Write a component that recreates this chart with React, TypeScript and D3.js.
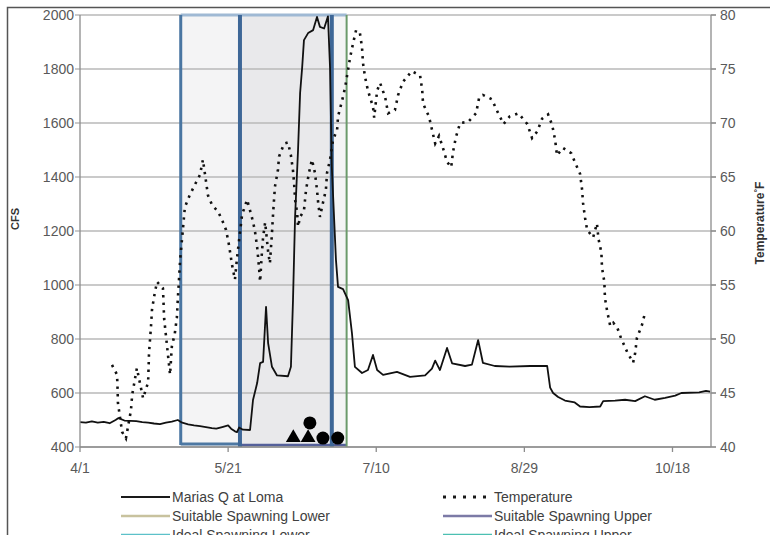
import React from "react";
import * as d3 from "d3";

const YEAR = 2013;
const md = (s: string) => {
  const [m, d] = s.split("/").map(Number);
  return new Date(YEAR, m - 1, d);
};
const START = md("4/1");
const END = md("10/31");
const fromDay = (d: number) => new Date(START.getTime() + d * 864e5);

// axes
const xTickLabels = ["4/1", "5/21", "7/10", "8/29", "10/18"];
const cfsTicks = [400, 600, 800, 1000, 1200, 1400, 1600, 1800, 2000];
const tempTicks = [40, 45, 50, 55, 60, 65, 70, 75, 80];

// Marias Q at Loma (days after 4/1, cfs)
const flowDays = [0, 2, 4, 6, 8, 10, 12, 13, 15, 17, 19, 21, 23, 25, 27, 29, 31, 33, 34.5, 36.5,
  38.5, 40.5, 42.5, 44.5, 46, 48, 50, 51, 52.3, 53, 53.7, 55, 57.4, 58.4, 59.8, 60.8, 61.8, 62.8, 63.5, 64.8,
  66.5, 70.2, 71.2, 71.9, 72.6, 73.6, 74.3, 75, 75.6, 77, 78.7, 80, 81, 82.4, 83.7, 84.4, 85, 86.4, 87.1, 88.8,
  90.5, 91.8, 92.8, 95.2, 97.2, 98.9, 100.3, 102.3, 107, 111.4, 116.5, 118.8, 119.9, 121.5, 123.9, 125.6, 130, 132.3, 134.4, 136,
  140, 145, 152, 157.7, 158.7, 159.7, 161.4, 163.7, 167, 168.8, 172, 175.6, 176.6, 180.6, 184, 187.4, 190.7, 194, 197.5, 200.9,
  203, 209, 211.3, 212.7];
const flowCfs = [492, 490, 495, 490, 493, 488, 500, 507, 498, 497, 496, 492, 490, 487, 485, 490, 494, 500, 490, 484,
  480, 477, 474, 470, 468, 474, 480, 468, 458, 455, 472, 464, 463, 574, 637, 711, 715, 919, 785, 697,
  665, 662, 697, 944, 1252, 1500, 1711, 1807, 1907, 1933, 1944, 1993, 1956, 1950, 1995, 1807, 1437, 1093, 993, 985,
  944, 822, 697, 674, 685, 741, 685, 667, 678, 660, 665, 690, 720, 685, 767, 710, 700, 705, 796, 712,
  700, 698, 700, 700, 620, 600, 585, 572, 565, 550, 548, 550, 570, 572, 575, 570, 588, 575, 582, 590,
  600, 602, 608, 605];

// Temperature (days after 4/1, deg F)
const tempDays = [10.8, 12.5, 12.7, 12.8, 14.2, 15.5, 17.2, 17.6, 19.2, 21.3, 23, 23.3, 24, 24.3, 25, 26, 28, 28.4, 29.4, 30.4,
  31, 32, 32.7, 33, 33.8, 35.4, 37, 38.8, 40.5, 41.5, 43.2, 44.6, 46.6, 48, 49.3, 50.3, 51.3, 52.3, 53, 54.7,
  56.4, 58, 59, 59.8, 60.4, 60.8, 61.4, 61.8, 62.5, 63.5, 64.1, 64.8, 65.2, 65.8, 66.8, 67.2, 68.9, 70.2, 71.2, 71.9,
  72.3, 72.6, 73.3, 73.6, 74.3, 75.6, 76.3, 77.3, 78.3, 79.3, 80, 80.4, 81, 82, 83, 83.4, 84.4, 85.4, 86.8, 87.1,
  88.5, 89.5, 90.1, 91.2, 92.2, 93.2, 94.5, 95.2, 95.5, 96.2, 97.2, 98.9, 99.3, 100.3, 101.3, 103, 104, 106.3, 107.4, 109,
  112, 114.8, 115.5, 115.8, 117.8, 118.8, 119.9, 121.2, 122.5, 123.9, 125.3, 125.9, 126.9, 128.3, 131, 133.7, 134.7, 136, 139, 141,
  143, 145, 148, 151, 152.6, 154.3, 156, 158, 159.4, 160.4, 161, 163, 165.8, 167.5, 168.8, 169.5, 169.8, 170.5, 171.2, 173.2,
  174.5, 175, 176, 176.2, 177, 177.2, 178, 179, 180, 181.3, 182.6, 184.7, 186.7, 187.4, 188, 189.7, 190.7];
const tempF = [47.6, 46.7, 45.3, 44.1, 41.4, 40.8, 43.4, 44.8, 47.3, 44.5, 46, 48.7, 51.3, 52.7, 53.9, 55.3, 54.7, 51.9, 49.3, 46.7,
  49.3, 50.5, 52, 53.6, 57.3, 62.2, 63.3, 64.3, 65.2, 66.6, 63.3, 62.4, 61.8, 61, 60.1, 58.7, 56.9, 55.5, 57.5, 61.5,
  62.9, 61.3, 60.1, 58.5, 56.7, 55.3, 58, 59.4, 60.8, 58.1, 57, 59.8, 61.7, 64.1, 65.6, 66.9, 68.1, 68.2, 67, 65.6,
  64.3, 62.9, 61.7, 60.4, 61.3, 61.9, 63.8, 65.4, 66.6, 65.4, 63.8, 62.6, 61.3, 62.6, 63.8, 65.4, 66.6, 68.4, 69.4, 70.6,
  72.1, 73.3, 74.3, 76.1, 77.4, 78.6, 78.3, 77, 75.6, 74.3, 73, 71.5, 70.5, 73, 73.7, 72.4, 70.9, 71.2, 72.6, 73.8,
  74.8, 74.4, 73.1, 71.8, 70.6, 69.4, 68.1, 68.8, 67.7, 66.4, 65.9, 67.3, 68.7, 70, 70.1, 70.9, 72.3, 72.6, 72.2, 71,
  69.9, 70.6, 70.9, 69.9, 68.6, 69.2, 70.4, 70.8, 69.8, 68.4, 67, 67.7, 67.2, 66.1, 65.3, 63.8, 62.6, 61.2, 60.1, 59.4,
  60.7, 59.3, 58, 56.6, 55.3, 53.8, 52.5, 51.2, 51.5, 51.1, 50.1, 48.8, 47.8, 48.7, 50.1, 51.3, 52.4];

// spawning windows
const suitableWindow = ["5/5", "6/30"];
const idealWindow = ["5/25", "6/25"];

// observations
const triangleDays = [72, 77];
const triangleCfs = [438, 438];
const circleDays = [77.6, 82, 87];
const circleCfs = [489, 433, 433];

const legendItems = [
  { label: "Marias Q at Loma", color: "#1a1a1a", dash: "", w: 2.2 },
  { label: "Temperature", color: "#1a1a1a", dash: "3,7", w: 3 },
  { label: "Suitable Spawning Lower", color: "#c8c29e", dash: "", w: 2.5 },
  { label: "Suitable Spawning Upper", color: "#7c7aa6", dash: "", w: 2.5 },
  { label: "Ideal Spawning Lower", color: "#5cc1c9", dash: "", w: 2.5 },
  { label: "Ideal Spawning Upper", color: "#4cc0b2", dash: "", w: 2.5 },
];

const W = 770, H = 535;
const L = 80, R = 711, T = 15, B = 447;
const FONT = "'Liberation Sans Narrow', 'Liberation Sans', Arial, sans-serif";

export default function App() {
  const x = d3.scaleTime().domain([START, END]).range([L, R]);
  const yQ = d3.scaleLinear().domain([400, 2000]).range([B, T]);
  const yT = d3.scaleLinear().domain([40, 80]).range([B, T]);

  const flow = flowDays.map((d, i) => ({ t: fromDay(d), v: flowCfs[i] }));
  const temp = tempDays.map((d, i) => ({ t: fromDay(d), v: tempF[i] }));

  const flowLine = d3.line<{ t: Date; v: number }>().x(d => x(d.t)).y(d => yQ(d.v));
  const tempLine = d3.line<{ t: Date; v: number }>().x(d => x(d.t)).y(d => yT(d.v));

  const s0 = x(md(suitableWindow[0])), s1 = x(md(suitableWindow[1]));
  const i0 = x(md(idealWindow[0])), i1 = x(md(idealWindow[1]));

  const tri = d3.symbol().type(d3.symbolTriangle).size(95);
  const tickGray = "#8c8c8c";

  return (
    <div style={{ position: "fixed", left: 0, top: 0, width: W, height: H, background: "#fff" }}>
      <svg width={W} height={H} style={{ display: "block" }} fontFamily={FONT}>
        <rect width={W} height={H} fill="#fff" />
        {/* outer chart border */}
        <path d={`M7.5,${H}V7.5H${W}`} fill="none" stroke="#555" strokeWidth={1.5} />

        {/* spawning window fills */}
        <rect x={s0} y={T} width={s1 - s0} height={B - T} fill="#f4f4f5" />
        <rect x={i0} y={T} width={i1 - i0} height={B - T} fill="#e9e9eb" />

        {/* gridlines */}
        {cfsTicks.map(v => (
          <line key={v} x1={L - 5} x2={R + 5} y1={yQ(v)} y2={yQ(v)} stroke="#b9b9b9" strokeWidth={1.6} />
        ))}

        {/* spawning window outlines */}
        <line x1={s0} x2={s1} y1={T} y2={T} stroke="#9fb9d4" strokeWidth={3} />
        <line x1={s0} x2={i0} y1={B - 3} y2={B - 3} stroke="#4d78a3" strokeWidth={3} />
        <line x1={i0} x2={s1} y1={B - 2} y2={B - 2} stroke="#55609a" strokeWidth={2.5} />
        <line x1={s0} x2={s0} y1={T} y2={B - 2} stroke="#4a76a2" strokeWidth={3} />
        <line x1={s1} x2={s1} y1={T} y2={B} stroke="#6b9a6b" strokeWidth={2} />
        <line x1={i0} x2={i0} y1={T} y2={B} stroke="#3e6797" strokeWidth={4} />
        <line x1={i1} x2={i1} y1={T} y2={B} stroke="#3e6797" strokeWidth={4} />

        {/* series */}
        <path d={flowLine(flow) ?? ""} fill="none" stroke="#111" strokeWidth={1.8} strokeLinejoin="round" />
        <path d={tempLine(temp) ?? ""} fill="none" stroke="#111" strokeWidth={2.6} strokeDasharray="2.4,5.2" />

        {/* observation markers */}
        {triangleDays.map((d, i) => (
          <path key={"t" + i} d={tri() ?? ""} transform={`translate(${x(fromDay(d))},${yQ(triangleCfs[i]) + 1})`} fill="#000" />
        ))}
        {circleDays.map((d, i) => (
          <circle key={"c" + i} cx={x(fromDay(d))} cy={yQ(circleCfs[i])} r={6.5} fill="#000" />
        ))}

        {/* axes */}
        <line x1={L} x2={L} y1={T} y2={B} stroke={tickGray} strokeWidth={1.3} />
        <line x1={R} x2={R} y1={T} y2={B} stroke={tickGray} strokeWidth={1.3} />
        <line x1={L} x2={R} y1={B} y2={B} stroke={tickGray} strokeWidth={1.3} />
        {xTickLabels.map(lb => {
          const px = x(md(lb));
          return (
            <g key={lb}>
              <line x1={px} x2={px} y1={B} y2={B + 5} stroke={tickGray} strokeWidth={1.3} />
              <text x={px} y={B + 26} textAnchor="middle" fontSize={14} fill="#595959">{lb}</text>
            </g>
          );
        })}
        {cfsTicks.map(v => (
          <text key={v} x={L - 6} y={yQ(v) + 5} textAnchor="end" fontSize={14} fill="#595959">{v}</text>
        ))}
        {tempTicks.map(v => (
          <g key={v}>
            <line x1={R} x2={R + 5} y1={yT(v)} y2={yT(v)} stroke={tickGray} strokeWidth={1.3} />
            <text x={R + 9} y={yT(v) + 5} fontSize={14} fill="#595959">{v}</text>
          </g>
        ))}

        {/* axis titles */}
        <text transform="translate(19,219) rotate(-90)" textAnchor="middle" fontSize={11} fontWeight="bold" fill="#333">CFS</text>
        <text transform="translate(764,223) rotate(-90)" textAnchor="middle" fontSize={12} fontWeight="bold" fill="#333">
          Temperature<tspan fontSize={9} dy={-4}>°</tspan><tspan dy={4}>F</tspan>
        </text>

        {/* legend */}
        {legendItems.map((it, i) => {
          const col = i % 2, row = Math.floor(i / 2);
          const lx = col === 0 ? 121 : 443;
          const ly = 497 + row * 19;
          return (
            <g key={it.label}>
              <line x1={lx} x2={lx + 49} y1={ly} y2={ly} stroke={it.color} strokeWidth={it.w} strokeDasharray={it.dash || undefined} />
              <text x={lx + 51} y={ly + 5} fontSize={14} fill="#404040">{it.label}</text>
            </g>
          );
        })}
      </svg>
    </div>
  );
}
